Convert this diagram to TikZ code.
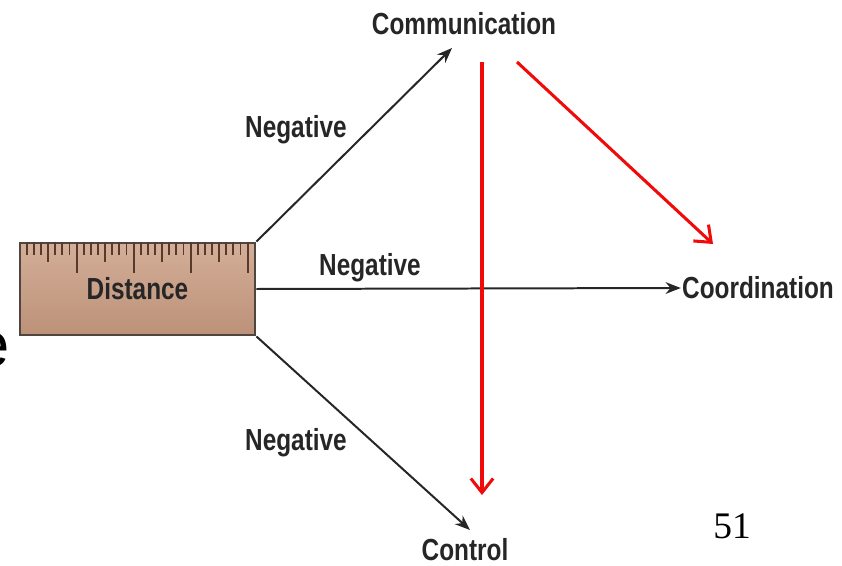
\documentclass[tikz,border=0pt]{standalone}
\usepackage{fontspec}
\setmainfont{Liberation Serif}
\newfontfamily\cond{Liberation Sans}[FakeStretch=0.8]
\newfontfamily\plainsans{Liberation Sans}
\usetikzlibrary{arrows.meta}
\definecolor{inkgray}{RGB}{38,38,38}
\definecolor{rulertop}{RGB}{212,174,152}
\definecolor{rulermid}{RGB}{218,184,162}
\definecolor{rulerbot}{RGB}{188,145,120}
\definecolor{rulerline}{RGB}{80,70,65}
\definecolor{tickbrown}{RGB}{88,58,44}
\definecolor{linkred}{RGB}{240,10,10}

\tikzset{
  lbl/.style={font={\cond\bfseries\fontsize{26}{30}\selectfont}, text=inkgray, inner sep=1pt},
  ruler/.style={lbl, draw=rulerline, line width=2.4pt, top color=rulertop, middle color=rulermid,
    bottom color=rulerbot, minimum width=7.05cm, minimum height=2.76cm, inner sep=0pt},
  tick/.style={tickbrown, line width=1.6pt},
  neg/.style={inkgray, line width=1.7pt, -{Stealth[length=13pt,width=10pt]}},
  link/.style={linkred, line width=2.6pt, -{Straight Barb[length=12pt,width=19pt]}}
}

\begin{document}
\begin{tikzpicture}[x=0.03cm, y=-0.03cm]
\useasboundingbox (0,0) rectangle (842,566);
\begin{scope}
\clip (0,0) rectangle (842,566);
\node[font={\plainsans\fontsize{54}{60}\selectfont}, anchor=east, inner sep=0pt] (cut) at (10,350) {e};
\end{scope}
\node[ruler] (dist) at (137.5,289) {Distance};
\foreach \i [evaluate=\i as \len using {mod(\i,8)==0 ? 31 : (mod(\i,4)==0 ? 20 : 13)}] in {1,...,32} {
 \draw[tick] ([shift={(1+7.125*\i,0)}]dist.north west) -- ++(0,\len);
}
\node[lbl] (comm) at (464,24) {Communication};
\node[lbl] (coord) at (758,288) {Coordination};
\node[lbl] (ctrl) at (465,550) {Control};
\node[lbl] (neg1) at (296,130) {Negative};
\node[lbl] (neg2) at (370,268) {Negative};
\node[lbl] (neg3) at (296,443) {Negative};
\node[font={\fontsize{32}{36}\selectfont}] (page) at (732,526) {51};
\draw[neg] (dist.north east) -- ([shift={(-12,24)}]comm.center);
\draw[neg] (dist.east) -- (coord.west);
\draw[neg] (dist.south east) -- ([shift={(5,-20)}]ctrl.center);
\draw[link] ([shift={(18,38)}]comm.center) -- ([shift={(17,-55)}]ctrl.center);
\draw[link] ([shift={(53,38)}]comm.center) -- ([shift={(-45,-44)}]coord.center);
\end{tikzpicture}
\end{document}
